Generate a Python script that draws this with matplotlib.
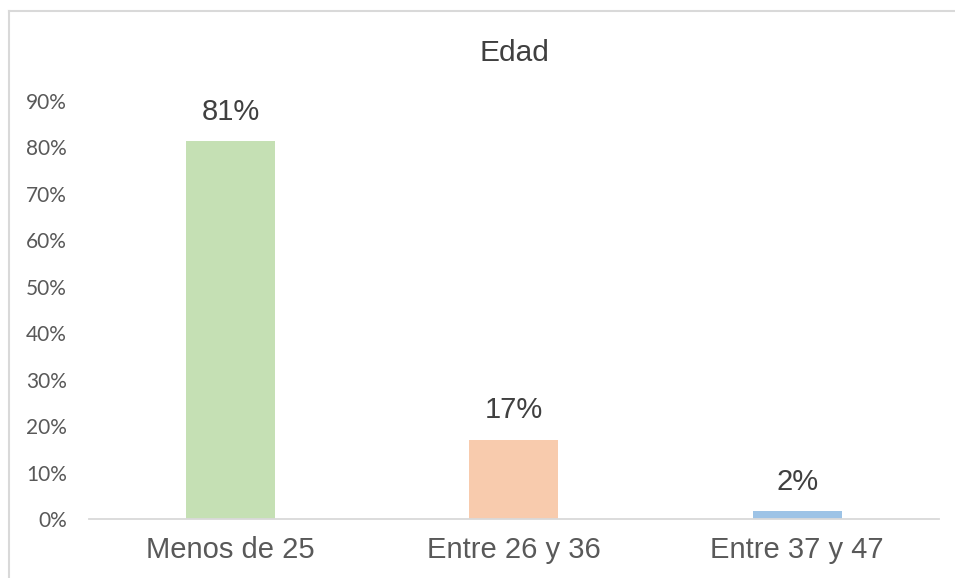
import matplotlib.pyplot as plt
from matplotlib.lines import Line2D

categories = ["Menos de 25", "Entre 26 y 36", "Entre 37 y 47"]
values = [0.812, 0.171, 0.017]
colors = ["#C5E0B4", "#F8CBAD", "#9DC3E6"]
yticks = [0.0, 0.1, 0.2, 0.3, 0.4, 0.5, 0.6, 0.7, 0.8, 0.9]

fig = plt.figure(figsize=(9.55, 5.78), dpi=100)
ax = fig.add_axes([0.0932, 0.102, 0.8898, 0.724])

x = range(len(categories))
bars = ax.bar(x, values, width=0.314, color=colors)

for b, v in zip(bars, values):
    ax.annotate("{:.0f}%".format(v * 100), (b.get_x() + b.get_width() / 2, v),
                xytext=(0, 11), textcoords="offset points", ha="center", va="bottom",
                fontsize=21, color="#404040", family="Liberation Sans")

ax.set_xlim(-0.5, 2.5)
ax.set_ylim(0, 0.9)
ax.set_yticks(yticks)
ax.set_yticklabels(["{:.0f}%".format(t * 100) for t in yticks], family="Lato",
                   fontsize=15, color="#595959")
ax.set_xticks(list(x))
ax.set_xticklabels(categories, family="Liberation Sans", fontsize=21, color="#595959")
ax.tick_params(axis="y", length=0, pad=16)
ax.tick_params(axis="x", length=0, pad=12)

for s in ["top", "right", "left"]:
    ax.spines[s].set_visible(False)
ax.spines["bottom"].set_color("#D9D9D9")
ax.spines["bottom"].set_linewidth(1.3)

fig.text(0.5 * (89 + 939) / 955, 1 - 53 / 578, "Edad", ha="center", va="center",
         fontsize=21.5, color="#404040", family="Liberation Sans")

# chart frame, left and top edges only (the picture is cropped)
fig.add_artist(Line2D([8.5 / 955, 8.5 / 955], [0, 1 - 10.5 / 578], color="#D9D9D9", lw=1.5))
fig.add_artist(Line2D([8.5 / 955, 1], [1 - 10.5 / 578, 1 - 10.5 / 578], color="#D9D9D9", lw=1.5))

plt.savefig("out.png", dpi=100)
